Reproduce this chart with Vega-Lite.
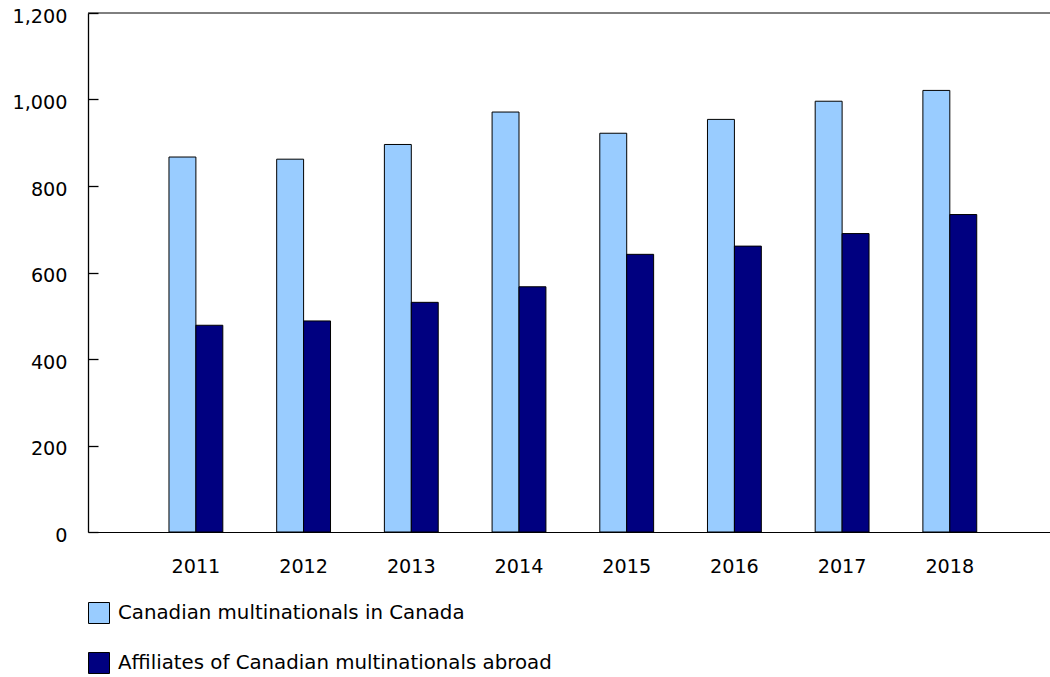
{
  "$schema": "https://vega.github.io/schema/vega-lite/v6.json",
  "width": 962,
  "height": 519,
  "autosize": "none",
  "padding": {"left": 88, "top": 13, "right": 0, "bottom": 145},
  "config": {
    "view": {"stroke": null},
    "font": "DejaVu Sans"
  },
  "data": {
    "values": [
      {"year": "2011", "series": "Canadian multinationals in Canada", "value": 867},
      {"year": "2011", "series": "Affiliates of Canadian multinationals abroad", "value": 478},
      {"year": "2012", "series": "Canadian multinationals in Canada", "value": 862},
      {"year": "2012", "series": "Affiliates of Canadian multinationals abroad", "value": 488},
      {"year": "2013", "series": "Canadian multinationals in Canada", "value": 896},
      {"year": "2013", "series": "Affiliates of Canadian multinationals abroad", "value": 531},
      {"year": "2014", "series": "Canadian multinationals in Canada", "value": 971},
      {"year": "2014", "series": "Affiliates of Canadian multinationals abroad", "value": 567},
      {"year": "2015", "series": "Canadian multinationals in Canada", "value": 922},
      {"year": "2015", "series": "Affiliates of Canadian multinationals abroad", "value": 642},
      {"year": "2016", "series": "Canadian multinationals in Canada", "value": 954},
      {"year": "2016", "series": "Affiliates of Canadian multinationals abroad", "value": 661},
      {"year": "2017", "series": "Canadian multinationals in Canada", "value": 996},
      {"year": "2017", "series": "Affiliates of Canadian multinationals abroad", "value": 690},
      {"year": "2018", "series": "Canadian multinationals in Canada", "value": 1021},
      {"year": "2018", "series": "Affiliates of Canadian multinationals abroad", "value": 734}
    ]
  },
  "layer": [
    {
      "mark": {"type": "bar", "stroke": "#000000", "strokeWidth": 1},
      "encoding": {
        "x": {
          "field": "year", "type": "nominal",
          "scale": {"paddingInner": 0.5, "paddingOuter": 0.716, "align": 0.525},
          "axis": {"title": null, "labelAngle": 0, "ticks": false, "labelPadding": 25, "domainWidth": 1, "domainColor": "#000000", "grid": false,
                   "labelFont": "DejaVu Sans", "labelFontSize": 19.2, "labelColor": "#000000"}
        },
        "xOffset": {
          "field": "series", "type": "nominal",
          "sort": ["Canadian multinationals in Canada", "Affiliates of Canadian multinationals abroad"]
        },
        "y": {
          "field": "value", "type": "quantitative",
          "scale": {"domain": [0, 1200], "nice": false},
          "axis": {"title": null, "values": [0, 200, 400, 600, 800, 1000, 1200], "format": ",d", "tickSize": -10, "labelPadding": 31, "labelOffset": 3,
                   "domainWidth": 1.3, "tickWidth": 1.3, "domainColor": "#000000", "tickColor": "#000000", "grid": false,
                   "labelFont": "DejaVu Sans", "labelFontSize": 19.2, "labelColor": "#000000"}
        },
        "color": {
          "field": "series", "type": "nominal",
          "sort": ["Canadian multinationals in Canada", "Affiliates of Canadian multinationals abroad"],
          "scale": {"domain": ["Canadian multinationals in Canada", "Affiliates of Canadian multinationals abroad"], "range": ["#99CCFF", "#000080"]},
          "legend": {
            "title": null, "orient": "none", "legendX": 0, "legendY": 589, "direction": "vertical",
            "symbolType": "square", "symbolSize": 441, "symbolStrokeColor": "#000000", "symbolStrokeWidth": 1,
            "symbolOpacity": 1, "rowPadding": 24, "labelOffset": 8, "labelLimit": 0,
            "labelFont": "DejaVu Sans", "labelFontSize": 19.8, "labelColor": "#000000"
          }
        }
      }
    },
    {
      "data": {"values": [{"top": 1200}]},
      "mark": {"type": "rule", "color": "#000000", "strokeWidth": 1},
      "encoding": {"y": {"field": "top", "type": "quantitative"}}
    }
  ]
}
